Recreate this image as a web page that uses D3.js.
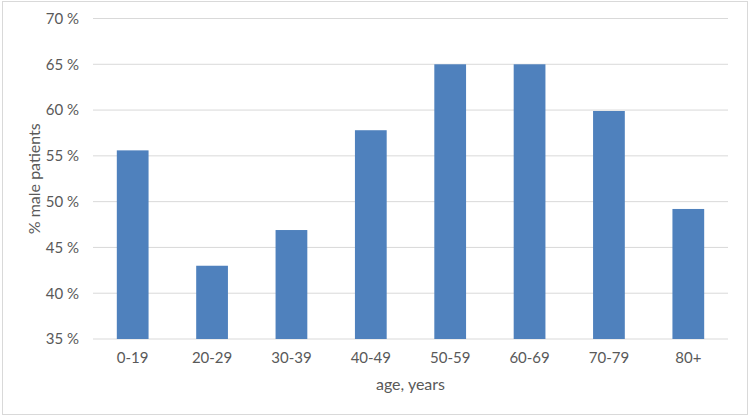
<!DOCTYPE html>
<html>
<head>
<meta charset="utf-8">
<script src="https://cdn.jsdelivr.net/npm/d3@7"></script>
<style>
  body { margin: 0; background: #fff; }
  text { font-family: Lato, "Open Sans", sans-serif; fill: #595959; }
</style>
</head>
<body>
<div id="chart"></div>
<script>
// age groups and share of male patients (%)
var ageGroups = ["0-19", "20-29", "30-39", "40-49", "50-59", "60-69", "70-79", "80+"];
var malePct = [55.6, 43.0, 46.9, 57.8, 65.0, 65.0, 59.9, 49.2];
var yTicks = [35, 40, 45, 50, 55, 60, 65, 70];

function init() {
    var w = 749, h = 417,
        margin = {top: 18.5, right: 21, bottom: 78, left: 93},
        width = w - margin.left - margin.right,
        height = h - margin.top - margin.bottom;

    var svg = d3.select("#chart")
        .append("svg")
        .attr("width", w)
        .attr("height", h);

    // chart border
    svg.append("rect")
        .attr("x", 2.5).attr("y", 1.5)
        .attr("width", 745).attr("height", 413)
        .attr("fill", "#fff")
        .attr("stroke", "#d9d9d9");

    var g = svg.append("g")
        .attr("transform", "translate(" + margin.left + "," + margin.top + ")");

    var xScale = d3.scaleBand()
        .domain(ageGroups)
        .range([0, width])
        .paddingInner(0.6)
        .paddingOuter(0.3);

    var yScale = d3.scaleLinear()
        .domain([35, 70])
        .range([height, 0]);

    // gridlines
    g.append("g")
        .selectAll("line")
        .data(yTicks)
        .join("line")
        .attr("x1", 0).attr("x2", width)
        .attr("y1", d => yScale(d)).attr("y2", d => yScale(d))
        .attr("stroke", "#d9d9d9")
        .attr("stroke-width", 1);

    // y axis labels
    var yAxis = d3.axisLeft(yScale).tickValues(yTicks)
        .tickFormat(d => d + " %").tickSize(0).tickPadding(14);
    g.append("g")
        .attr("class", "y axis")
        .call(yAxis)
        .call(s => s.select(".domain").remove())
        .selectAll("text")
        .style("font-size", "15px")
        .attr("fill", "#595959");

    // bars
    g.selectAll("rect.bar")
        .data(malePct)
        .join("rect")
        .attr("class", "bar")
        .attr("x", (d, i) => xScale(ageGroups[i]))
        .attr("y", d => yScale(d))
        .attr("width", xScale.bandwidth())
        .attr("height", d => height - yScale(d))
        .attr("fill", "#4f81bd");

    // x axis
    var xAxis = d3.axisBottom(xScale).tickSize(0).tickPadding(13);
    g.append("g")
        .attr("class", "x axis")
        .attr("transform", "translate(0," + height + ")")
        .call(xAxis)
        .call(s => s.select(".domain").remove())
        .selectAll("text")
        .style("font-size", "15px")
        .attr("fill", "#595959");

    // axis titles
    svg.append("text")
        .attr("x", margin.left + width / 2)
        .attr("y", 390)
        .attr("text-anchor", "middle")
        .style("font-size", "16px")
        .text("age, years");

    svg.append("text")
        .attr("transform", "translate(40," + (margin.top + height / 2) + ") rotate(-90)")
        .attr("text-anchor", "middle")
        .style("font-size", "16px")
        .text("% male patients");
}

init();
</script>
</body>
</html>
